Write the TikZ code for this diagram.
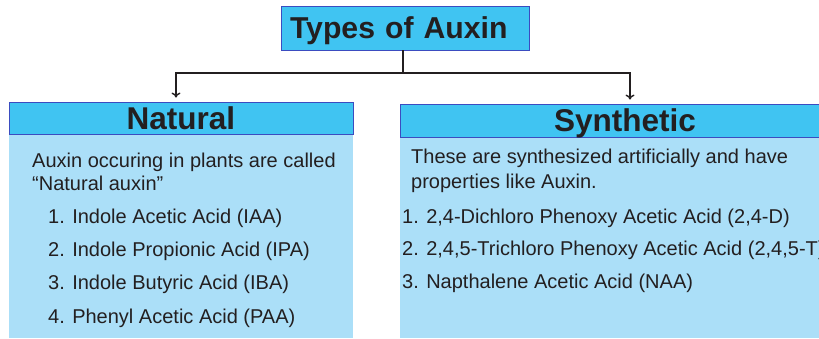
\documentclass[tikz,border=0pt]{standalone}
\usepackage{fontspec}
\setmainfont{Liberation Sans}
\usetikzlibrary{arrows.meta,positioning}
\definecolor{headblue}{HTML}{40C4F2}
\definecolor{bodyblue}{HTML}{ABDFF8}
\definecolor{edgeblue}{HTML}{3B4CC0}
\definecolor{inkgrey}{HTML}{231F20}

\begin{document}
\begin{tikzpicture}
[x=1pt,y=-1pt,
head/.style={rectangle,draw=edgeblue,fill=headblue,line width=0.9pt,inner sep=0pt,
  font=\fontsize{31.5}{36}\selectfont\bfseries,text=inkgrey,text height=22.5pt,text depth=0pt},
body/.style={rectangle,fill=bodyblue,inner sep=0pt,anchor=north west},
line/.style={anchor=base west,inner sep=0pt,font=\fontsize{20}{23}\selectfont,text=inkgrey},
link/.style={draw=inkgrey,line width=1.4pt},
arrow/.style={link,-{To[length=5pt,width=9pt]},shorten >=4pt}]

\clip (0,0) rectangle (819,338);

% boxes
\node[body,minimum width=344pt,minimum height=204pt] (natbody) at (9,134) {};
\node[body,minimum width=450pt,minimum height=201pt] (synbody) at (400,137) {};
\node[head,minimum width=344pt,minimum height=32pt] (nat) at (181,118) {Natural};
\node[head,minimum width=450pt,minimum height=33pt] (syn) at (625,120.5) {Synthetic};
\node[head,minimum width=248pt,minimum height=44pt,text width=230pt,align=left,
  font=\fontsize{30.2}{34}\selectfont\bfseries,text height=21.5pt] (title) at (405,28) {Types of Auxin};

% connectors
\coordinate (split) at (403,73);
\draw[link] (title.south -| split) -- (split);
\draw[arrow] (split) -| ([xshift=-5pt]nat.north);
\draw[arrow] (split) -| ([xshift=5pt]syn.north);

% natural
\node[line] (natintro) at (32,167) {Auxin occuring in plants are called};
\node[line] (natquote) at (32,190) {“Natural auxin”};
\foreach \t [count=\i] in {{Indole Acetic Acid (IAA)},{Indole Propionic Acid (IPA)},
  {Indole Butyric Acid (IBA)},{Phenyl Acetic Acid (PAA)}}
  \node[line] (nat\i) at (48,223+33.4*\i-33.4) {\i. \t};

% synthetic
\node[line] (synintro) at (411,163) {These are synthesized artificially and have};
\node[line] (synprop) at (411,188) {properties like Auxin.};
\foreach \t [count=\i] in {{2,4-Dichloro Phenoxy Acetic Acid (2,4-D)},
  {2,4,5-Trichloro Phenoxy Acetic Acid (2,4,5-T)},{Napthalene Acetic Acid (NAA)}}
  \node[line] (syn\i) at (402,223+32.5*\i-32.5) {\i. \t};
\end{tikzpicture}
\end{document}
